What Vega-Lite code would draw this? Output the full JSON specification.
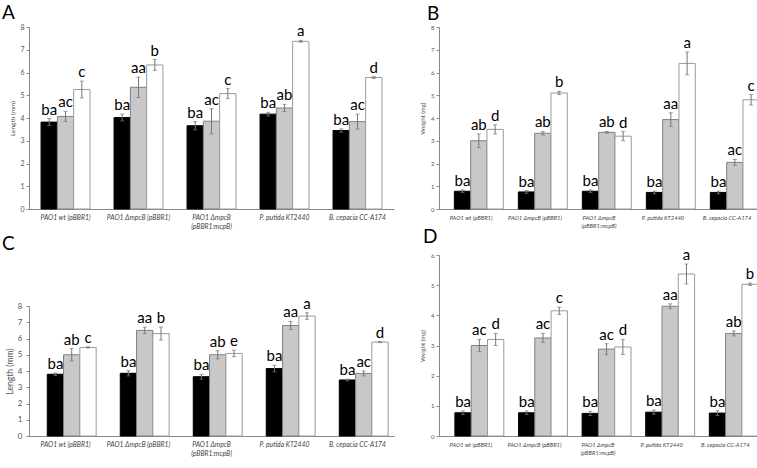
{
  "$schema": "https://vega.github.io/schema/vega-lite/v6.json",
  "padding": {"left": 2, "top": 4, "right": 0, "bottom": 0},
  "datasets": {
    "A": [
      {"strain": "PAO1 wt (pBBR1)", "group": "T1", "value": 3.82, "low": 3.67, "high": 3.97, "letter": "ba"},
      {"strain": "PAO1 wt (pBBR1)", "group": "T2", "value": 4.07, "low": 3.85, "high": 4.29, "letter": "ac"},
      {"strain": "PAO1 wt (pBBR1)", "group": "T3", "value": 5.25, "low": 4.88, "high": 5.62, "letter": "c"},
      {"strain": "PAO1 ΔmpcB (pBBR1)", "group": "T1", "value": 4.02, "low": 3.87, "high": 4.17, "letter": "ba"},
      {"strain": "PAO1 ΔmpcB (pBBR1)", "group": "T2", "value": 5.35, "low": 4.9, "high": 5.8, "letter": "aa"},
      {"strain": "PAO1 ΔmpcB (pBBR1)", "group": "T3", "value": 6.33, "low": 6.09, "high": 6.57, "letter": "b"},
      {"strain": "PAO1 ΔmpcB|(pBBR1:mcpB)", "group": "T1", "value": 3.66, "low": 3.48, "high": 3.84, "letter": "ba"},
      {"strain": "PAO1 ΔmpcB|(pBBR1:mcpB)", "group": "T2", "value": 3.86, "low": 3.31, "high": 4.41, "letter": "ac"},
      {"strain": "PAO1 ΔmpcB|(pBBR1:mcpB)", "group": "T3", "value": 5.07, "low": 4.85, "high": 5.29, "letter": "c"},
      {"strain": "P. putida KT2440", "group": "T1", "value": 4.17, "low": 4.09, "high": 4.25, "letter": "ba"},
      {"strain": "P. putida KT2440", "group": "T2", "value": 4.44, "low": 4.28, "high": 4.6, "letter": "ab"},
      {"strain": "P. putida KT2440", "group": "T3", "value": 7.37, "low": 7.33, "high": 7.41, "letter": "a"},
      {"strain": "B. cepacia CC-A174", "group": "T1", "value": 3.45, "low": 3.38, "high": 3.52, "letter": "ba"},
      {"strain": "B. cepacia CC-A174", "group": "T2", "value": 3.84, "low": 3.51, "high": 4.17, "letter": "ac"},
      {"strain": "B. cepacia CC-A174", "group": "T3", "value": 5.78, "low": 5.74, "high": 5.82, "letter": "d"}
    ],
    "B": [
      {"strain": "PAO1 wt (pBBR1)", "group": "T1", "value": 0.78, "low": 0.72, "high": 0.84, "letter": "ba"},
      {"strain": "PAO1 wt (pBBR1)", "group": "T2", "value": 3.0, "low": 2.7, "high": 3.3, "letter": "ab"},
      {"strain": "PAO1 wt (pBBR1)", "group": "T3", "value": 3.5, "low": 3.3, "high": 3.7, "letter": "d"},
      {"strain": "PAO1 ΔmpcB (pBBR1)", "group": "T1", "value": 0.75, "low": 0.69, "high": 0.81, "letter": "ba"},
      {"strain": "PAO1 ΔmpcB (pBBR1)", "group": "T2", "value": 3.33, "low": 3.25, "high": 3.41, "letter": "ab"},
      {"strain": "PAO1 ΔmpcB (pBBR1)", "group": "T3", "value": 5.1, "low": 5.03, "high": 5.17, "letter": "b"},
      {"strain": "PAO1 ΔmpcB|(pBBR1:mcpB)", "group": "T1", "value": 0.78, "low": 0.72, "high": 0.84, "letter": "ba"},
      {"strain": "PAO1 ΔmpcB|(pBBR1:mcpB)", "group": "T2", "value": 3.37, "low": 3.33, "high": 3.41, "letter": "ab"},
      {"strain": "PAO1 ΔmpcB|(pBBR1:mcpB)", "group": "T3", "value": 3.2, "low": 3.0, "high": 3.4, "letter": "d"},
      {"strain": "P. putida KT2440", "group": "T1", "value": 0.73, "low": 0.67, "high": 0.79, "letter": "ba"},
      {"strain": "P. putida KT2440", "group": "T2", "value": 3.93, "low": 3.63, "high": 4.23, "letter": "aa"},
      {"strain": "P. putida KT2440", "group": "T3", "value": 6.4, "low": 5.9, "high": 6.9, "letter": "a"},
      {"strain": "B. cepacia CC-A174", "group": "T1", "value": 0.73, "low": 0.67, "high": 0.79, "letter": "ba"},
      {"strain": "B. cepacia CC-A174", "group": "T2", "value": 2.05, "low": 1.92, "high": 2.18, "letter": "ac"},
      {"strain": "B. cepacia CC-A174", "group": "T3", "value": 4.8, "low": 4.57, "high": 5.03, "letter": "c"}
    ],
    "C": [
      {"strain": "PAO1 wt (pBBR1)", "group": "T1", "value": 3.8, "low": 3.72, "high": 3.88, "letter": "ba"},
      {"strain": "PAO1 wt (pBBR1)", "group": "T2", "value": 5.0, "low": 4.62, "high": 5.38, "letter": "ab"},
      {"strain": "PAO1 wt (pBBR1)", "group": "T3", "value": 5.45, "low": 5.41, "high": 5.49, "letter": "c"},
      {"strain": "PAO1 ΔmpcB (pBBR1)", "group": "T1", "value": 3.86, "low": 3.7, "high": 4.02, "letter": "ba"},
      {"strain": "PAO1 ΔmpcB (pBBR1)", "group": "T2", "value": 6.5, "low": 6.3, "high": 6.7, "letter": "aa"},
      {"strain": "PAO1 ΔmpcB (pBBR1)", "group": "T3", "value": 6.3, "low": 5.9, "high": 6.7, "letter": "b"},
      {"strain": "PAO1 ΔmpcB|(pBBR1:mcpB)", "group": "T1", "value": 3.65, "low": 3.5, "high": 3.8, "letter": "ba"},
      {"strain": "PAO1 ΔmpcB|(pBBR1:mcpB)", "group": "T2", "value": 5.0, "low": 4.75, "high": 5.25, "letter": "ab"},
      {"strain": "PAO1 ΔmpcB|(pBBR1:mcpB)", "group": "T3", "value": 5.08, "low": 4.88, "high": 5.28, "letter": "e"},
      {"strain": "P. putida KT2440", "group": "T1", "value": 4.15, "low": 3.95, "high": 4.35, "letter": "ba"},
      {"strain": "P. putida KT2440", "group": "T2", "value": 6.8, "low": 6.55, "high": 7.05, "letter": "aa"},
      {"strain": "P. putida KT2440", "group": "T3", "value": 7.38, "low": 7.18, "high": 7.58, "letter": "a"},
      {"strain": "B. cepacia CC-A174", "group": "T1", "value": 3.45, "low": 3.4, "high": 3.5, "letter": "ba"},
      {"strain": "B. cepacia CC-A174", "group": "T2", "value": 3.85, "low": 3.7, "high": 4.0, "letter": "ac"},
      {"strain": "B. cepacia CC-A174", "group": "T3", "value": 5.78, "low": 5.75, "high": 5.81, "letter": "d"}
    ],
    "D": [
      {"strain": "PAO1 wt (pBBR1)", "group": "T1", "value": 0.77, "low": 0.71, "high": 0.83, "letter": "ba"},
      {"strain": "PAO1 wt (pBBR1)", "group": "T2", "value": 3.0, "low": 2.8, "high": 3.2, "letter": "ac"},
      {"strain": "PAO1 wt (pBBR1)", "group": "T3", "value": 3.2, "low": 3.0, "high": 3.4, "letter": "d"},
      {"strain": "PAO1 ΔmpcB (pBBR1)", "group": "T1", "value": 0.77, "low": 0.71, "high": 0.83, "letter": "ba"},
      {"strain": "PAO1 ΔmpcB (pBBR1)", "group": "T2", "value": 3.25, "low": 3.1, "high": 3.4, "letter": "ac"},
      {"strain": "PAO1 ΔmpcB (pBBR1)", "group": "T3", "value": 4.15, "low": 4.03, "high": 4.27, "letter": "c"},
      {"strain": "PAO1 ΔmpcB|(pBBR1:mcpB)", "group": "T1", "value": 0.75, "low": 0.68, "high": 0.82, "letter": "ba"},
      {"strain": "PAO1 ΔmpcB|(pBBR1:mcpB)", "group": "T2", "value": 2.88, "low": 2.7, "high": 3.06, "letter": "ac"},
      {"strain": "PAO1 ΔmpcB|(pBBR1:mcpB)", "group": "T3", "value": 2.95, "low": 2.7, "high": 3.2, "letter": "d"},
      {"strain": "P. putida KT2440", "group": "T1", "value": 0.79, "low": 0.72, "high": 0.86, "letter": "ba"},
      {"strain": "P. putida KT2440", "group": "T2", "value": 4.3, "low": 4.22, "high": 4.38, "letter": "aa"},
      {"strain": "P. putida KT2440", "group": "T3", "value": 5.37, "low": 5.04, "high": 5.7, "letter": "a"},
      {"strain": "B. cepacia CC-A174", "group": "T1", "value": 0.76, "low": 0.68, "high": 0.84, "letter": "ba"},
      {"strain": "B. cepacia CC-A174", "group": "T2", "value": 3.4, "low": 3.32, "high": 3.48, "letter": "ab"},
      {"strain": "B. cepacia CC-A174", "group": "T3", "value": 5.03, "low": 4.99, "high": 5.07, "letter": "b"}
    ]
  },
  "vconcat": [
    {
      "hconcat": [
        {
          "data": {"name": "A"},
          "width": 365,
          "height": 182,
          "title": {"text": "A", "dx": -27, "offset": 0},
          "encoding": {
            "x": {"field": "strain", "type": "nominal", "sort": null, "scale": {"paddingInner": 0.33, "paddingOuter": 0.165}, "axis": {"labelFontSize": 6.8, "labelLineHeight": 9}},
            "xOffset": {"field": "group", "type": "nominal", "sort": null, "scale": {"paddingInner": 0, "paddingOuter": 0}}
          },
          "layer": [
            {"mark": {"type": "bar", "strokeWidth": 1},
              "encoding": {
                "y": {"field": "value", "type": "quantitative", "scale": {"domain": [0, 8], "nice": false}, "axis": {"title": "Length (mm)", "values": [0, 1, 2, 3, 4, 5, 6, 7, 8], "titleFontSize": 6.5, "titlePadding": 4, "labelFontSize": 7}},
                "fill": {"field": "group", "type": "nominal", "scale": {"domain": ["T1", "T2", "T3"], "range": ["#000000", "#c8c8c8", "#ffffff"]}, "legend": null},
                "stroke": {"field": "group", "type": "nominal", "scale": {"domain": ["T1", "T2", "T3"], "range": ["#000000", "#808080", "#9a9a9a"]}, "legend": null}
              }},
            {"mark": {"type": "rule", "color": "#777", "strokeWidth": 1}, "encoding": {"y": {"field": "low", "type": "quantitative", "axis": {"title": "Length (mm)", "values": [0, 1, 2, 3, 4, 5, 6, 7, 8], "titleFontSize": 6.5, "titlePadding": 4, "labelFontSize": 7}}, "y2": {"field": "high"}}},
            {"mark": {"type": "tick", "color": "#777", "size": 4, "thickness": 1}, "encoding": {"y": {"field": "low", "type": "quantitative", "axis": {"title": "Length (mm)", "values": [0, 1, 2, 3, 4, 5, 6, 7, 8], "titleFontSize": 6.5, "titlePadding": 4, "labelFontSize": 7}}}},
            {"mark": {"type": "tick", "color": "#777", "size": 4, "thickness": 1}, "encoding": {"y": {"field": "high", "type": "quantitative", "axis": {"title": "Length (mm)", "values": [0, 1, 2, 3, 4, 5, 6, 7, 8], "titleFontSize": 6.5, "titlePadding": 4, "labelFontSize": 7}}}},
            {"mark": {"type": "text", "baseline": "bottom", "dy": -1, "fontSize": 15, "font": "Lato", "color": "#000"}, "encoding": {"y": {"field": "high", "type": "quantitative", "axis": {"title": "Length (mm)", "values": [0, 1, 2, 3, 4, 5, 6, 7, 8], "titleFontSize": 6.5, "titlePadding": 4, "labelFontSize": 7}}, "text": {"field": "letter"}}}
          ]
        },
        {
          "data": {"name": "B"},
          "width": 320,
          "height": 182,
          "title": {"text": "B", "dx": -12, "offset": 0},
          "encoding": {
            "x": {"field": "strain", "type": "nominal", "sort": null, "scale": {"paddingInner": 0.48, "paddingOuter": 0.24}, "axis": {"labelFontSize": 5.8, "labelLineHeight": 8}},
            "xOffset": {"field": "group", "type": "nominal", "sort": null, "scale": {"paddingInner": 0, "paddingOuter": 0}}
          },
          "layer": [
            {"mark": {"type": "bar", "strokeWidth": 1},
              "encoding": {
                "y": {"field": "value", "type": "quantitative", "scale": {"domain": [0, 8], "nice": false}, "axis": {"title": "Weight (mg)", "values": [0, 1, 2, 3, 4, 5, 6, 7, 8], "titleFontSize": 6, "titlePadding": 5, "labelFontSize": 6}},
                "fill": {"field": "group", "type": "nominal", "scale": {"domain": ["T1", "T2", "T3"], "range": ["#000000", "#c8c8c8", "#ffffff"]}, "legend": null},
                "stroke": {"field": "group", "type": "nominal", "scale": {"domain": ["T1", "T2", "T3"], "range": ["#000000", "#808080", "#9a9a9a"]}, "legend": null}
              }},
            {"mark": {"type": "rule", "color": "#777", "strokeWidth": 1}, "encoding": {"y": {"field": "low", "type": "quantitative", "axis": {"title": "Weight (mg)", "values": [0, 1, 2, 3, 4, 5, 6, 7, 8], "titleFontSize": 6, "titlePadding": 5, "labelFontSize": 6}}, "y2": {"field": "high"}}},
            {"mark": {"type": "tick", "color": "#777", "size": 4, "thickness": 1}, "encoding": {"y": {"field": "low", "type": "quantitative", "axis": {"title": "Weight (mg)", "values": [0, 1, 2, 3, 4, 5, 6, 7, 8], "titleFontSize": 6, "titlePadding": 5, "labelFontSize": 6}}}},
            {"mark": {"type": "tick", "color": "#777", "size": 4, "thickness": 1}, "encoding": {"y": {"field": "high", "type": "quantitative", "axis": {"title": "Weight (mg)", "values": [0, 1, 2, 3, 4, 5, 6, 7, 8], "titleFontSize": 6, "titlePadding": 5, "labelFontSize": 6}}}},
            {"mark": {"type": "text", "baseline": "bottom", "dy": -1, "fontSize": 15, "font": "Lato", "color": "#000"}, "encoding": {"y": {"field": "high", "type": "quantitative", "axis": {"title": "Weight (mg)", "values": [0, 1, 2, 3, 4, 5, 6, 7, 8], "titleFontSize": 6, "titlePadding": 5, "labelFontSize": 6}}, "text": {"field": "letter"}}}
          ]
        }
      ],
      "spacing": 25
    },
    {
      "hconcat": [
        {
          "data": {"name": "C"},
          "width": 365,
          "height": 181,
          "title": {"text": "C", "dx": -27, "offset": 1},
          "encoding": {
            "x": {"field": "strain", "type": "nominal", "sort": null, "scale": {"paddingInner": 0.5, "paddingOuter": 0.25}, "axis": {"labelFontSize": 6.8, "labelLineHeight": 9}},
            "xOffset": {"field": "group", "type": "nominal", "sort": null, "scale": {"paddingInner": 0, "paddingOuter": 0}}
          },
          "layer": [
            {"mark": {"type": "bar", "strokeWidth": 1},
              "encoding": {
                "y": {"field": "value", "type": "quantitative", "scale": {"domain": [0, 8], "nice": false, "range": [181, 51]}, "axis": {"title": "Length (mm)", "values": [0, 1, 2, 3, 4, 5, 6, 7, 8], "titleFontSize": 8.5, "titlePadding": 3, "labelFontSize": 8, "labelPadding": 4}},
                "fill": {"field": "group", "type": "nominal", "scale": {"domain": ["T1", "T2", "T3"], "range": ["#000000", "#c8c8c8", "#ffffff"]}, "legend": null},
                "stroke": {"field": "group", "type": "nominal", "scale": {"domain": ["T1", "T2", "T3"], "range": ["#000000", "#808080", "#9a9a9a"]}, "legend": null}
              }},
            {"mark": {"type": "rule", "color": "#777", "strokeWidth": 1}, "encoding": {"y": {"field": "low", "type": "quantitative", "axis": {"title": "Length (mm)", "values": [0, 1, 2, 3, 4, 5, 6, 7, 8], "titleFontSize": 8.5, "titlePadding": 3, "labelFontSize": 8, "labelPadding": 4}}, "y2": {"field": "high"}}},
            {"mark": {"type": "tick", "color": "#777", "size": 4, "thickness": 1}, "encoding": {"y": {"field": "low", "type": "quantitative", "axis": {"title": "Length (mm)", "values": [0, 1, 2, 3, 4, 5, 6, 7, 8], "titleFontSize": 8.5, "titlePadding": 3, "labelFontSize": 8, "labelPadding": 4}}}},
            {"mark": {"type": "tick", "color": "#777", "size": 4, "thickness": 1}, "encoding": {"y": {"field": "high", "type": "quantitative", "axis": {"title": "Length (mm)", "values": [0, 1, 2, 3, 4, 5, 6, 7, 8], "titleFontSize": 8.5, "titlePadding": 3, "labelFontSize": 8, "labelPadding": 4}}}},
            {"mark": {"type": "text", "baseline": "bottom", "dy": -1, "fontSize": 15, "font": "Lato", "color": "#000"}, "encoding": {"y": {"field": "high", "type": "quantitative", "axis": {"title": "Length (mm)", "values": [0, 1, 2, 3, 4, 5, 6, 7, 8], "titleFontSize": 8.5, "titlePadding": 3, "labelFontSize": 8, "labelPadding": 4}}, "text": {"field": "letter"}}}
          ]
        },
        {
          "data": {"name": "D"},
          "width": 318,
          "height": 181,
          "title": {"text": "D", "dx": -16, "offset": 1},
          "encoding": {
            "x": {"field": "strain", "type": "nominal", "sort": null, "scale": {"paddingInner": 0.5, "paddingOuter": 0.25}, "axis": {"labelFontSize": 5.8, "labelLineHeight": 8}},
            "xOffset": {"field": "group", "type": "nominal", "sort": null, "scale": {"paddingInner": 0, "paddingOuter": 0}}
          },
          "layer": [
            {"mark": {"type": "bar", "strokeWidth": 1},
              "encoding": {
                "y": {"field": "value", "type": "quantitative", "scale": {"domain": [0, 6], "nice": false}, "axis": {"title": "Weight (mg)", "values": [0, 1, 2, 3, 4, 5, 6], "titleFontSize": 6, "titlePadding": 5, "labelFontSize": 6}},
                "fill": {"field": "group", "type": "nominal", "scale": {"domain": ["T1", "T2", "T3"], "range": ["#000000", "#c8c8c8", "#ffffff"]}, "legend": null},
                "stroke": {"field": "group", "type": "nominal", "scale": {"domain": ["T1", "T2", "T3"], "range": ["#000000", "#808080", "#9a9a9a"]}, "legend": null}
              }},
            {"mark": {"type": "rule", "color": "#777", "strokeWidth": 1}, "encoding": {"y": {"field": "low", "type": "quantitative", "axis": {"title": "Weight (mg)", "values": [0, 1, 2, 3, 4, 5, 6], "titleFontSize": 6, "titlePadding": 5, "labelFontSize": 6}}, "y2": {"field": "high"}}},
            {"mark": {"type": "tick", "color": "#777", "size": 4, "thickness": 1}, "encoding": {"y": {"field": "low", "type": "quantitative", "axis": {"title": "Weight (mg)", "values": [0, 1, 2, 3, 4, 5, 6], "titleFontSize": 6, "titlePadding": 5, "labelFontSize": 6}}}},
            {"mark": {"type": "tick", "color": "#777", "size": 4, "thickness": 1}, "encoding": {"y": {"field": "high", "type": "quantitative", "axis": {"title": "Weight (mg)", "values": [0, 1, 2, 3, 4, 5, 6], "titleFontSize": 6, "titlePadding": 5, "labelFontSize": 6}}}},
            {"mark": {"type": "text", "baseline": "bottom", "dy": -1, "fontSize": 15, "font": "Lato", "color": "#000"}, "encoding": {"y": {"field": "high", "type": "quantitative", "axis": {"title": "Weight (mg)", "values": [0, 1, 2, 3, 4, 5, 6], "titleFontSize": 6, "titlePadding": 5, "labelFontSize": 6}}, "text": {"field": "letter"}}}
          ]
        }
      ],
      "spacing": 25
    }
  ],
  "spacing": -2,
  "config": {
    "view": {"stroke": null},
    "title": {"anchor": "start", "frame": "group", "fontSize": 19, "font": "Lato", "fontWeight": "normal", "color": "#000"},
    "axisX": {"title": null, "labelAngle": 0, "ticks": false, "domainColor": "#888", "labelFont": "Lato", "labelFontStyle": "italic", "labelColor": "#444", "labelPadding": 5, "labelOverlap": false, "labelLimit": 0, "labelExpr": "split(datum.label, '|')"},
    "axisY": {"grid": false, "labelOverlap": false, "titleFont": "Lato", "titleFontWeight": "normal", "titleColor": "#555", "labelFont": "Lato", "labelColor": "#555", "labelPadding": 2, "tickSize": 3, "tickColor": "#888", "domainColor": "#888"}
  }
}
